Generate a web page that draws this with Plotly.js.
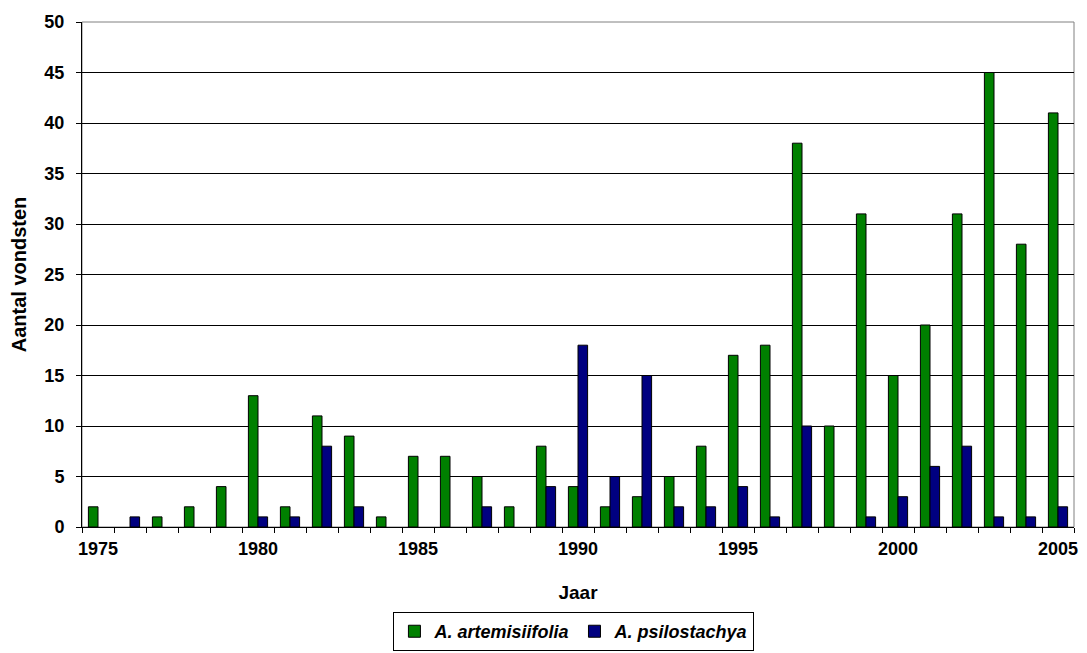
<!DOCTYPE html>
<html>
<head>
<meta charset="utf-8">
<script src="https://cdn.plot.ly/plotly-3.0.1.min.js"></script>
<style>html,body{margin:0;padding:0;background:#fff;}#chart{width:1087px;height:653px;}</style>
</head>
<body>
<div id="chart"></div>
<script>
const years = [1975,1976,1977,1978,1979,1980,1981,1982,1983,1984,1985,1986,1987,1988,1989,1990,1991,1992,1993,1994,1995,1996,1997,1998,1999,2000,2001,2002,2003,2004,2005];
const artemisiifolia = [2,0,1,2,4,13,2,11,9,1,7,7,5,2,8,4,2,3,5,8,17,18,38,10,31,15,20,31,45,28,41];
const psilostachya = [0,1,0,0,0,1,1,8,2,0,0,0,2,0,4,18,5,15,2,2,4,1,10,0,1,3,6,8,1,1,2];
const seriesNames = ['A. artemisiifolia','A. psilostachya'];
const xTickLabels = [1975,1980,1985,1990,1995,2000,2005];
const yTicks = [0,5,10,15,20,25,30,35,40,45,50];

const font = 'Arial, "Liberation Sans", sans-serif';
const noZero = arr => arr.map(v => v === 0 ? null : v);
const xRange = [years[0]-0.5, years[years.length-1]+0.5];
const boundaries = years.map(y => y-0.5).concat([years[years.length-1]+0.5]);

const data = [
  {type:'bar', x:years, y:noZero(artemisiifolia), name:seriesNames[0],
   marker:{color:'#008000', line:{color:'#000', width:1}}},
  {type:'bar', x:years, y:noZero(psilostachya), name:seriesNames[1],
   marker:{color:'#000080', line:{color:'#000', width:1}}},
  {type:'scatter', mode:'markers', x:[], y:[], xaxis:'x2', yaxis:'y', showlegend:false, hoverinfo:'skip'}
];
const layout = {
  width:1087, height:653,
  margin:{l:82, r:13, t:22, b:126},
  paper_bgcolor:'#fff', plot_bgcolor:'#fff',
  barmode:'group', bargap:0.4, bargroupgap:0,
  font:{family:font, color:'#000', size:14, weight:'bold'},
  showlegend:true,
  legend:{orientation:'h', x:0.528, xanchor:'center', xref:'container', y:0.003, yanchor:'bottom', yref:'container',
          bordercolor:'#000', borderwidth:1, bgcolor:'#fff',
          font:{family:font, size:18, style:'italic', weight:'bold'},
          itemwidth:30, itemgap:0, tracegroupgap:0},
  xaxis:{type:'linear', range:xRange, tickvals:boundaries, showticklabels:false,
         ticks:'outside', ticklen:5, tickcolor:'#000', tickwidth:1,
         showline:true, linecolor:'#000', linewidth:1, showgrid:false, zeroline:false},
  xaxis2:{type:'linear', overlaying:'x', anchor:'y', side:'bottom', range:xRange,
          tickvals:xTickLabels, ticks:'outside', ticklen:5, tickcolor:'rgba(0,0,0,0)',
          showline:false, showgrid:false, zeroline:false,
          tickfont:{family:font, size:18, weight:'bold'},
          title:{text:'Jaar', font:{family:font, size:19, weight:'bold'}, standoff:28}},
  yaxis:{range:[0,50], tickvals:yTicks, ticks:'outside', ticklen:5, tickcolor:'#000',
         showline:true, linecolor:'#000', linewidth:1, ticklabelstandoff:8,
         showgrid:true, gridcolor:'#000', gridwidth:1, zeroline:false,
         tickfont:{family:font, size:18, weight:'bold'},
         title:{text:'Aantal vondsten', font:{family:font, size:20, weight:'bold'}, standoff:12}},
  shapes:[{type:'rect', xref:'paper', yref:'paper', x0:0, x1:1, y0:0, y1:1, line:{color:'#808080', width:1}, fillcolor:'rgba(0,0,0,0)', layer:'below'}]
};
Plotly.newPlot('chart', data, layout, {displayModeBar:false, staticPlot:true});
</script>
</body>
</html>
